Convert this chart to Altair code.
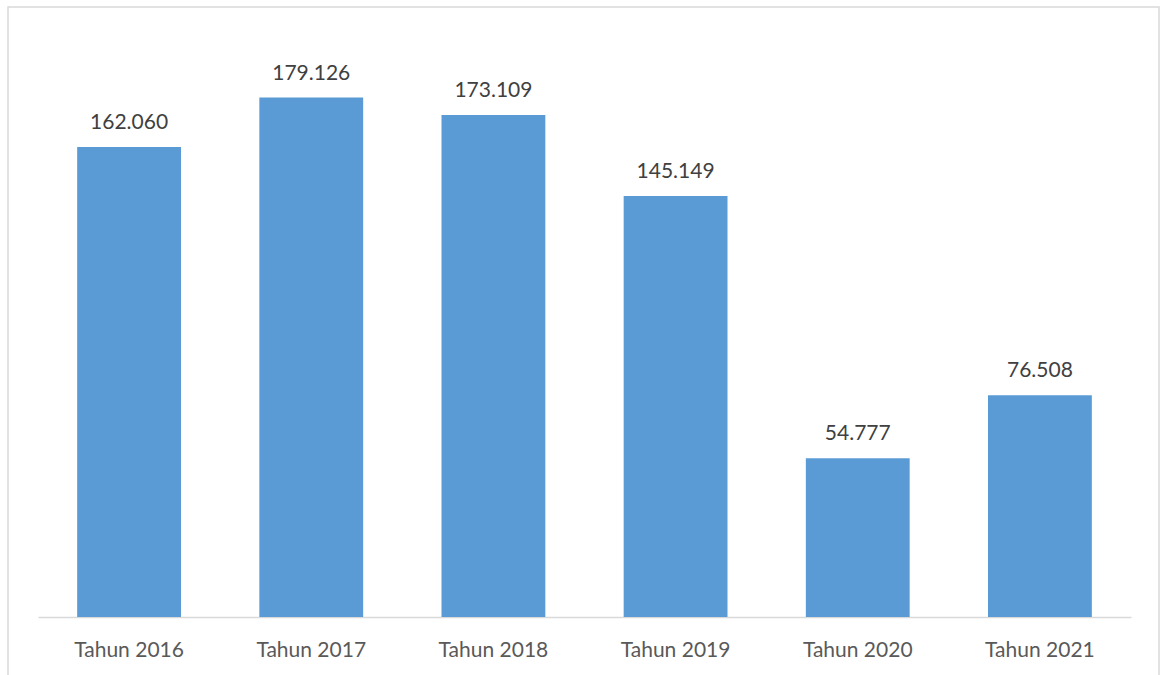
import altair as alt
import pandas as pd

categories = ["Tahun 2016", "Tahun 2017", "Tahun 2018", "Tahun 2019", "Tahun 2020", "Tahun 2021"]
values = [162.060, 179.126, 173.109, 145.149, 54.777, 76.508]

df = pd.DataFrame({"cat": categories, "val": values})

FONT = "Lato"

x = alt.X("cat:N", sort=categories, title=None,
          scale=alt.Scale(paddingInner=0.43, paddingOuter=0.215),
          axis=alt.Axis(labelAngle=0, ticks=False, domainColor="#D9D9D9", domainWidth=1.5,
                        labelFont=FONT, labelFontSize=21, labelColor="#595959",
                        labelPadding=22, grid=False))
y = alt.Y("val:Q", title=None, scale=alt.Scale(domain=[0, 200], nice=False), axis=None)

bars = alt.Chart(df).mark_bar(color="#5B9BD5").encode(x=x, y=y)
labels = alt.Chart(df).mark_text(dy=-18, baseline="alphabetic", font=FONT, fontSize=21,
                                  color="#404040").encode(
    x=alt.X("cat:N", sort=categories), y=y, text=alt.Text("val:Q", format=".3f"))

frame = alt.Chart(pd.DataFrame({"f": [0]})).mark_rect(
    fill=None, stroke="#D9D9D9", strokeWidth=1.5).encode(
    x=alt.value(-30), x2=alt.value(1121), y=alt.value(-30), y2=alt.value(640))

chart = alt.layer(frame, bars, labels).properties(
    width=1093, height=580,
    background="white",
    autosize=alt.AutoSizeParams(type="none"),
    padding={"left": 38, "top": 37, "right": 29, "bottom": 58},
).configure_view(strokeWidth=0, stroke="transparent")

chart.save("out.html", embed_options={"renderer": "svg", "actions": False})
